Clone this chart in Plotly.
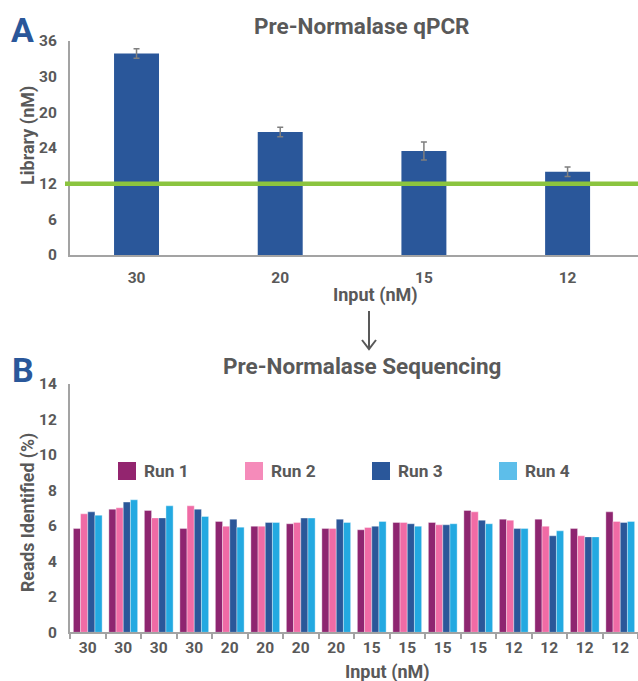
import plotly.graph_objects as go

W, H = 638, 681

# ---------------- Data ----------------
qpcr_inputs = ["30", "20", "15", "12"]
qpcr_library = [33.9, 20.7, 17.5, 14.0]
qpcr_error = [0.8, 0.8, 1.5, 0.8]
qpcr_threshold = 12
qpcr_tickvals = [0, 6, 12, 18, 24, 30, 36]
qpcr_ticktext = ["0", "6", "12", "24", "20", "30", "36"]

seq_inputs = ["30", "30", "30", "30", "20", "20", "20", "20",
              "15", "15", "15", "15", "12", "12", "12", "12"]
run1 = [5.85, 6.94, 6.87, 5.85, 6.25, 5.98, 6.12, 5.85, 5.78, 6.19, 6.19, 6.87, 6.38, 6.38, 5.85, 6.79]
run2 = [6.68, 7.02, 6.45, 7.13, 5.98, 5.98, 6.19, 5.85, 5.91, 6.19, 6.06, 6.79, 6.32, 5.98, 5.44, 6.25]
run3 = [6.79, 7.34, 6.45, 6.94, 6.38, 6.19, 6.44, 6.38, 5.98, 6.12, 6.06, 6.32, 5.85, 5.44, 5.38, 6.19]
run4 = [6.60, 7.47, 7.13, 6.53, 5.93, 6.19, 6.44, 6.19, 6.25, 5.98, 6.12, 6.12, 5.85, 5.72, 5.38, 6.25]
run_names = ["Run 1", "Run 2", "Run 3", "Run 4"]

# ---------------- Styles ----------------
FONT = "Roboto, sans-serif"
GRAY = "#595959"
AXIS = "#A3A3A3"
BLUE = "#2A579A"
bar_colors = ["#8E2570", "#F06BA5", "#2B5799", "#23A9E1"]
legend_colors = ["#93256F", "#F58BBA", "#2A579A", "#5DBEEA"]


def px(x):
    return x / W


def py(y):
    return 1 - y / H


seq_ids = [f"{lab}#{i}" for i, lab in enumerate(seq_inputs)]

fig = go.Figure()

# Chart A
fig.add_trace(go.Bar(
    x=qpcr_inputs, y=qpcr_library, width=0.313,
    marker=dict(color=BLUE, line=dict(width=0)),
    error_y=dict(type="data", array=qpcr_error, color="#7F7F7F", thickness=1.5, width=3),
    xaxis="x", yaxis="y", showlegend=False, hoverinfo="skip",
))

# Chart B
for name, vals, col in zip(run_names, [run1, run2, run3, run4], bar_colors):
    fig.add_trace(go.Bar(
        x=seq_ids, y=vals, name=name,
        marker=dict(color=col, line=dict(width=0.8, color="rgba(255,255,255,0.45)")),
        xaxis="x2", yaxis="y2", showlegend=False, hoverinfo="skip",
    ))

tickfont = dict(family=FONT, size=15.5, color=GRAY, weight="bold")

fig.update_layout(
    template="none",
    width=W, height=H, autosize=False,
    margin=dict(l=0, r=0, t=0, b=0, pad=0, autoexpand=False),
    paper_bgcolor="white", plot_bgcolor="white",
    barmode="group", bargap=0.19, bargroupgap=0,
    font=dict(family=FONT, color=GRAY),
    xaxis=dict(
        domain=[px(70), 1], anchor="y", type="category",
        range=[-0.463, 3.49], automargin=False,
        showline=True, linecolor=AXIS, linewidth=2,
        ticks="", showgrid=False, zeroline=False, tickfont=tickfont,
        ticklabelstandoff=7,
    ),
    yaxis=dict(
        domain=[py(255), py(41)], anchor="x", automargin=False,
        range=[0, 36], tickmode="array",
        tickvals=qpcr_tickvals, ticktext=qpcr_ticktext,
        showline=True, linecolor=AXIS, linewidth=2,
        ticks="", showgrid=False, zeroline=False, tickfont=tickfont,
        ticklabelstandoff=8,
    ),
    xaxis2=dict(
        domain=[px(70), 1], anchor="y2", type="category",
        range=[-0.5, 15.5], tickmode="array", automargin=False,
        tickvals=seq_ids, ticktext=seq_inputs, tickson="boundaries",
        showline=True, linecolor=AXIS, linewidth=2,
        ticks="outside", ticklen=5, tickwidth=1.5, tickcolor=AXIS,
        showgrid=False, zeroline=False, tickfont=tickfont,
    ),
    yaxis2=dict(
        domain=[py(632.3), py(384)], anchor="x2", automargin=False,
        range=[0, 14], tickmode="array", tickvals=list(range(0, 15, 2)),
        showline=True, linecolor=AXIS, linewidth=2,
        ticks="", showgrid=False, zeroline=False, tickfont=tickfont,
        ticklabelstandoff=8,
    ),
)

# threshold line in chart A
fig.add_shape(type="line", xref="paper", yref="y",
              x0=px(65), x1=1, y0=qpcr_threshold, y1=qpcr_threshold,
              line=dict(color="#8BC43F", width=4.5), layer="above")

# arrow between panels
ax_x = px(369)
fig.add_shape(type="path", xref="paper", yref="paper",
              path=(f"M {ax_x},{py(311)} L {ax_x},{py(348)} "
                    f"M {px(362)},{py(340)} L {ax_x},{py(349)} L {px(376)},{py(340)}"),
              line=dict(color=GRAY, width=2))

# custom legend
leg_x = [118, 245, 372, 499]
for x0, col, name in zip(leg_x, legend_colors, run_names):
    fig.add_shape(type="rect", xref="paper", yref="paper",
                  x0=px(x0), x1=px(x0 + 18), y0=py(480), y1=py(462),
                  fillcolor=col, line=dict(width=0))
    fig.add_annotation(xref="paper", yref="paper", x=px(x0 + 24), y=py(471),
                       text=name, showarrow=False, xanchor="left", yanchor="middle",
                       font=dict(family=FONT, size=17.3, color=GRAY, weight="bold"))


def label(text, x, y, size, color=GRAY, angle=0):
    fig.add_annotation(xref="paper", yref="paper", x=px(x), y=py(y), text=text,
                       showarrow=False, xanchor="center", yanchor="middle",
                       textangle=angle,
                       font=dict(family=FONT, size=size, color=color, weight="bold"))


label("A", 22, 30, 34, BLUE)
label("B", 23, 370, 34, BLUE)
label("Pre-Normalase qPCR", 362, 26, 22.5)
label("Pre-Normalase Sequencing", 362, 366, 22.5)
label("Library (nM)", 28, 136, 18, angle=-90)
label("Reads Identified (%)", 28, 513, 17.7, angle=-90)
label("Input (nM)", 375, 295, 18)
label("Input (nM)", 388, 672, 18)

fig.write_html(
    "out.html",
    config={"displayModeBar": False, "responsive": False},
    post_script=("document.documentElement.style.margin='0';"
                 "document.body.style.margin='0';document.body.style.padding='0';"
                 "document.documentElement.style.overflow='hidden';"
                 "document.body.style.overflow='hidden';"),
)
